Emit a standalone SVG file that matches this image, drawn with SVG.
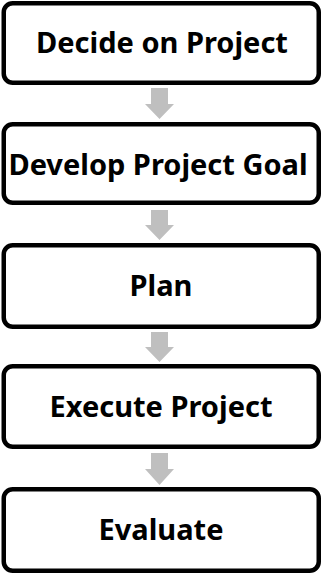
<svg xmlns="http://www.w3.org/2000/svg" width="322" height="575" viewBox="0 0 322 575">
<style>
.box{fill:#fff;stroke:#000;stroke-width:4.5}
.lbl{font-family:"Noto Sans","Liberation Sans",sans-serif;font-weight:700;font-size:29px;fill:#000;text-anchor:middle}
.arr{fill:#BFBFBF}
</style>
<rect width="322" height="575" fill="#fff"/>
<g id="connectors">
<polygon class="arr" points="151,88 168,88 168,104 174,104 159.5,119 145,104 151,104"/>
<polygon class="arr" points="151,210 168,210 168,225 174,225 159.5,240 145,225 151,225"/>
<polygon class="arr" points="151,332 168,332 168,347 174,347 159.5,362 145,347 151,347"/>
<polygon class="arr" points="151,453 168,453 168,469 174,469 159.5,485 145,469 151,469"/>
</g>
<g id="n1"><rect class="box" x="3.75" y="3.25" width="315" height="79.5" rx="9"/><text class="lbl" x="162" y="53">Decide on Project</text></g>
<g id="n2"><rect class="box" x="3.75" y="124.25" width="315" height="78.5" rx="9"/><text class="lbl" x="158" y="175">Develop Project Goal</text></g>
<g id="n3"><rect class="box" x="3.75" y="245.25" width="315" height="81.5" rx="9"/><text class="lbl" x="161" y="296">Plan</text></g>
<g id="n4"><rect class="box" x="3.75" y="366.25" width="315" height="80.5" rx="9"/><text class="lbl" x="161" y="417">Execute Project</text></g>
<g id="n5"><rect class="box" x="3.75" y="489.25" width="315" height="81.5" rx="9"/><text class="lbl" x="161" y="540">Evaluate</text></g>
</svg>
